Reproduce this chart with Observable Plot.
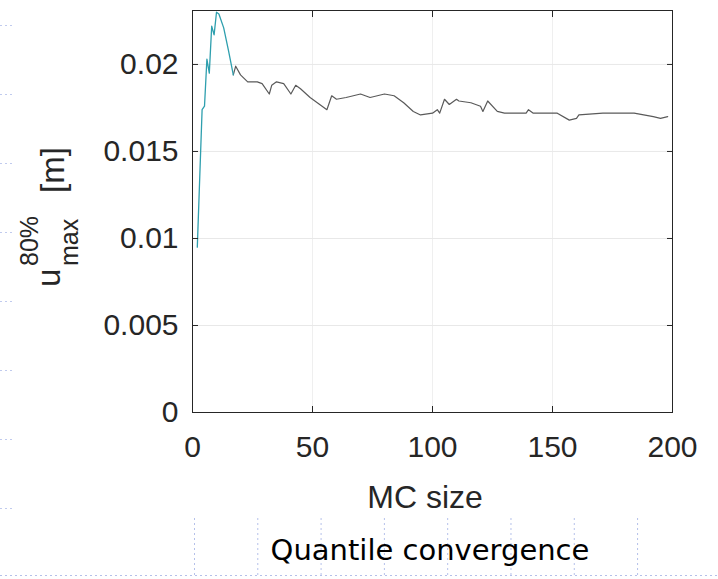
<!DOCTYPE html>
<html>
<head>
<meta charset="utf-8">
<script src="https://cdn.jsdelivr.net/npm/d3@7"></script>
<script src="https://cdn.jsdelivr.net/npm/@observablehq/plot@0.6"></script>
<style>
  html, body { margin: 0; padding: 0; background: #fff; }
  #wrap { position: relative; width: 718px; height: 579px; overflow: hidden; }
  #deco {
    position: absolute; left: 194px; top: 518px; width: 450px; height: 58px;
    background-image: linear-gradient(to right, rgba(130,150,220,0.6) 0, rgba(130,150,220,0.6) 1px, transparent 1px);
    background-size: 63.3px 100%;
    background-repeat: repeat-x;
    -webkit-mask-image: repeating-linear-gradient(to bottom, #000 0, #000 2px, transparent 2px, transparent 5px);
    mask-image: repeating-linear-gradient(to bottom, #000 0, #000 2px, transparent 2px, transparent 5px);
  }
  #decoH {
    position: absolute; left: 0; top: 575px; width: 718px; height: 1px;
    background-image: repeating-linear-gradient(to right, rgba(130,150,220,0.6) 0, rgba(130,150,220,0.6) 2px, transparent 2px, transparent 5px);
  }
  #decoL {
    position: absolute; left: 0; top: 25px; width: 14px; height: 500px;
    background-image: linear-gradient(to bottom, rgba(130,150,220,0.5) 0, rgba(130,150,220,0.5) 1px, transparent 1px);
    background-size: 100% 69px;
    -webkit-mask-image: repeating-linear-gradient(to right, #000 0, #000 2px, transparent 2px, transparent 5px);
    mask-image: repeating-linear-gradient(to right, #000 0, #000 2px, transparent 2px, transparent 5px);
  }
  #caption {
    position: absolute; left: 0; width: 860px; top: 536px; text-align: center;
    font-family: "DejaVu Sans", sans-serif; font-size: 29px; line-height: 29px; color: #000;
  }
  #chart { position: absolute; left: 0; top: 0; }
</style>
</head>
<body>
<div id="wrap">
  <div id="deco"></div>
  <div id="decoH"></div>
  <div id="decoL"></div>
  <div id="chart"></div>
  <div id="caption">Quantile convergence</div>
</div>
<script>
// MC sample size (x) and 80% quantile of u_max [m] (y)
const mcSize = [2, 4, 5, 6, 7, 8, 9, 10, 11, 13, 15, 17, 18, 20, 23, 27, 29, 32, 33, 35, 38, 41, 43, 45, 49, 53, 56, 58, 60, 64, 70, 74, 80, 84, 88, 92, 95, 100, 102, 103, 105, 107, 110, 111, 116, 120, 121, 123, 127, 130, 139, 140, 142, 152, 157, 160, 161, 171, 184, 188, 192, 195, 198];
const uMax80 = [0.0095, 0.0174, 0.0176, 0.0203, 0.0195, 0.0222, 0.0217, 0.0230, 0.0229, 0.0221, 0.0208, 0.0194, 0.0199, 0.0194, 0.0190, 0.0190, 0.0189, 0.0183, 0.0188, 0.0190, 0.0189, 0.0183, 0.0188, 0.0186, 0.0181, 0.0177, 0.0174, 0.0182, 0.0180, 0.0181, 0.0183, 0.0181, 0.0183, 0.0182, 0.0178, 0.0173, 0.0171, 0.0172, 0.0174, 0.0172, 0.0180, 0.0177, 0.0180, 0.0179, 0.0178, 0.0176, 0.0173, 0.0179, 0.0173, 0.0172, 0.0172, 0.0174, 0.0172, 0.0172, 0.0168, 0.0169, 0.0171, 0.0172, 0.0172, 0.0171, 0.0170, 0.0169, 0.0170];
const xTicks = [0, 50, 100, 150, 200];
const yTicks = [0, 0.005, 0.01, 0.015, 0.02];
const earlyEnd = 17; // early part drawn in teal

const rows = mcSize.map((n, i) => ({n, u: uMax80[i]}));
const early = rows.filter(d => d.n <= earlyEnd);
const late = rows.filter(d => d.n >= earlyEnd);

const fmt = d3.format("~g");
const plot = Plot.plot({
  width: 718,
  height: 530,
  marginLeft: 192,
  marginRight: 46,
  marginTop: 10,
  marginBottom: 118,
  style: {fontFamily: "'Liberation Sans', Arial, sans-serif", fontSize: "30px", color: "#262626", background: "transparent"},
  x: {domain: [0, 200]},
  y: {domain: [0, 0.0231]},
  marks: [
    Plot.gridX(xTicks, {stroke: "#efefef", strokeOpacity: 1}),
    Plot.gridY(yTicks, {stroke: "#e8e8e8", strokeOpacity: 1}),
    Plot.line(late, {x: "n", y: "u", stroke: "#5a5a5a", strokeWidth: 1.2, clip: true}),
    Plot.line(early, {x: "n", y: "u", stroke: "#2e9fae", strokeWidth: 1.3, clip: true}),
    Plot.frame({stroke: "#262626", strokeWidth: 1}),
    Plot.axisX(xTicks, {anchor: "bottom", tickSize: -6, tickPadding: 29, tickFormat: fmt, label: null, stroke: "#262626", fill: "#262626"}),
    Plot.axisX(xTicks, {anchor: "top", tickSize: -6, tickFormat: () => "", label: null, stroke: "#262626"}),
    Plot.axisY(yTicks, {anchor: "left", tickSize: -6, tickPadding: 20, tickFormat: fmt, label: null, stroke: "#262626", fill: "#262626"}),
    Plot.axisY(yTicks, {anchor: "right", tickSize: -6, tickFormat: () => "", label: null, stroke: "#262626"})
  ]
});
document.getElementById("chart").appendChild(plot);

// Axis titles (MATLAB-style)
const svg = d3.select(plot);
const ff = "'Liberation Sans', Arial, sans-serif";
svg.append("text")
  .attr("x", 425).attr("y", 508)
  .attr("text-anchor", "middle")
  .attr("font-family", ff).attr("font-size", 32).attr("fill", "#262626")
  .text("MC size");

const yl = svg.append("g").attr("font-family", ff).attr("fill", "#262626").attr("text-anchor", "start");
yl.append("text").attr("transform", "translate(60,287) rotate(-90)")
  .attr("font-size", 33).text("u");
yl.append("text").attr("transform", "translate(38,266) rotate(-90)")
  .attr("font-size", 25).text("80%");
yl.append("text").attr("transform", "translate(78,266) rotate(-90)")
  .attr("font-size", 25).text("max");
yl.append("text").attr("transform", "translate(64,193) rotate(-90)")
  .attr("font-size", 33).text("[m]");
</script>
</body>
</html>
